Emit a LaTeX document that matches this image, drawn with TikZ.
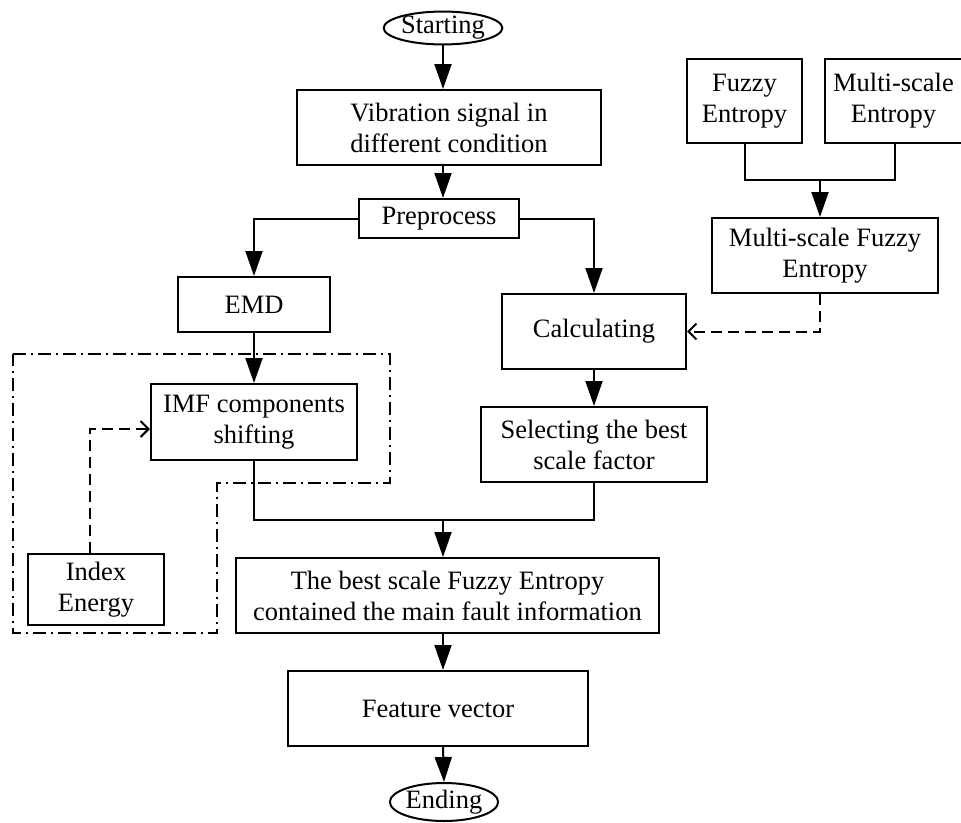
\documentclass[tikz,border=0pt]{standalone}
\usepackage{fontspec}
\setmainfont{Liberation Serif}
\usetikzlibrary{arrows.meta,calc,shapes.geometric}
\begin{document}
\begin{tikzpicture}[x=1pt,y=-1pt,
  every node/.style={font=\fontsize{26.5}{31}\selectfont, align=center, inner sep=0pt},
  box/.style={draw, line width=2pt, rectangle},
  oval/.style={draw, line width=2pt, ellipse},
  ln/.style={line width=2pt},
  arr/.style={line width=2pt, -{Triangle[length=25pt,width=17pt]}},
  darr/.style={line width=2pt, dash pattern=on 11pt off 6pt, -{Straight Barb[length=8pt,width=16pt,line width=2pt]}},
  dashdotline/.style={line width=2pt, dash pattern=on 13pt off 5pt on 2pt off 5pt}]
\useasboundingbox (0,0) rectangle (961,822);
% nodes
\node[oval, minimum width=105pt, minimum height=30pt] (start) at (443,28) {Starting};
\node[box, minimum width=304pt, minimum height=75pt] (vib) at (449,127.5) {Vibration signal in\\different condition};
\node[box, minimum width=160pt, minimum height=39pt] (pre) at (439,218.5) {Preprocess};
\node[box, minimum width=152pt, minimum height=55pt] (emd) at (254,304.5) {EMD};
\node[box, minimum width=184pt, minimum height=75pt] (calc) at (594,331.5) {Calculating};
\node[box, minimum width=226pt, minimum height=75pt] (sel) at (594,444.5) {Selecting the best\\scale factor};
\node[box, minimum width=206pt, minimum height=76pt] (imf) at (254,422) {IMF components\\shifting};
\node[box, minimum width=136pt, minimum height=71pt] (idx) at (96,589.5) {Index\\Energy};
\node[box, minimum width=423pt, minimum height=75pt] (best) at (447.5,595.5) {The best scale Fuzzy Entropy\\contained the main fault information};
\node[box, minimum width=300pt, minimum height=75pt] (feat) at (438,708.5) {Feature vector};
\node[oval, minimum width=106pt, minimum height=38pt] (end) at (444,802) {Ending};
\node[box, minimum width=115pt, minimum height=84pt] (fuzzy) at (744.5,101) {Fuzzy\\Entropy};
\node[box, minimum width=137pt, minimum height=84pt] (mse) at (893.5,101) {Multi-scale\\Entropy};
\node[box, minimum width=226pt, minimum height=75pt] (msfe) at (825,255.5) {Multi-scale Fuzzy\\Entropy};
% helper coordinates
\coordinate (cx) at (443,0);
\coordinate (jn) at (443,520);
\coordinate (rj) at (820,180);
% main column
\draw[arr] (start.south) -- (start.south |- vib.north);
\draw[arr] (vib.south -| cx) -- (pre.north -| cx);
\draw[arr] (pre.west) -| (emd.north);
\draw[arr] (pre.east) -| (calc.north);
\draw[arr] (emd.south) -- (imf.north);
\draw[arr] (calc.south) -- (sel.north);
\draw[ln] (imf.south) |- (jn) -| (sel.south);
\draw[arr] (jn) -- (best.north -| jn);
\draw[arr] (best.south -| cx) -- (feat.north -| cx);
\draw[arr] (feat.south -| cx) -- (end.north);
% right branch
\draw[ln] (fuzzy.south) |- (rj) -| ([xshift=1.5pt]mse.south);
\draw[arr] (rj) -- (msfe.north -| rj);
\draw[darr] (msfe.south -| rj) |- (calc.east);
% left feedback
\draw[darr] ([xshift=-6pt]idx.north) |- ([yshift=-7pt]imf.west);
\draw[dashdotline] (13,354) -- (390,354) -- (390,483) -- (217,483) -- (217,633) -- (13,633) -- cycle;
\end{tikzpicture}
\end{document}
